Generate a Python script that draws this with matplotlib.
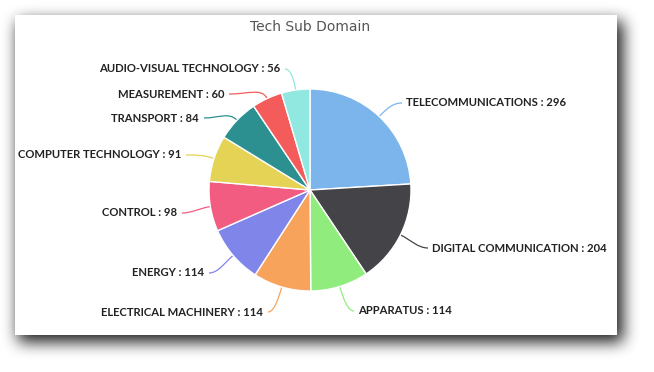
import numpy as np
import matplotlib
matplotlib.use("Agg")
import matplotlib.pyplot as plt
from matplotlib.path import Path
from matplotlib.patches import PathPatch, Rectangle

# ---- data ----
categories = ["TELECOMMUNICATIONS", "DIGITAL COMMUNICATION", "APPARATUS",
              "ELECTRICAL MACHINERY", "ENERGY", "CONTROL", "COMPUTER TECHNOLOGY",
              "TRANSPORT", "MEASUREMENT", "AUDIO-VISUAL TECHNOLOGY"]
values = [296, 204, 114, 114, 114, 98, 91, 84, 60, 56]
colors = ["#7cb5ec", "#434348", "#90ed7d", "#f7a35c", "#8085e9",
          "#f15c80", "#e4d354", "#2b908f", "#f45b5b", "#91e8e1"]
title = "Tech Sub Domain"

# ---- layout (pixel coords, y from top) ----
W, H = 654, 372
cx, cy, R = 310, 190, 101
label_pos = [(406, 103, "left"), (432, 248, "left"), (358, 311, "left"),
             (263, 312, "right"), (204, 273, "right"), (177, 213, "right"),
             (181, 155, "right"), (199, 118, "right"), (224, 94, "right"),
             (280, 69, "right")]

fig = plt.figure(figsize=(W / 100, H / 100), dpi=100)
ax = fig.add_axes([0, 0, 1, 1])
ax.set_xlim(0, W)
ax.set_ylim(0, H)
ax.set_aspect("equal")
ax.axis("off")

def Y(y):
    return H - y

# shadow of card
card = (15, 15, 617, 335)  # x0, y0, x1, y1 (pixels from top)
sh = np.zeros((H, W))
sh[card[1] + 6:card[3] + 7, card[0] + 3:card[2] + 6] = 1.0
def blur(a, k):
    for _ in range(3):
        c = np.cumsum(np.pad(a, ((0, 0), (k + 1, k)), mode="edge"), axis=1)
        a = (c[:, 2 * k + 1:] - c[:, :-2 * k - 1]) / (2 * k + 1)
        c = np.cumsum(np.pad(a, ((k + 1, k), (0, 0)), mode="edge"), axis=0)
        a = (c[2 * k + 1:, :] - c[:-2 * k - 1, :]) / (2 * k + 1)
    return a
sh = blur(sh, 7)
rgba = np.zeros((H, W, 4))
rgba[..., 3] = np.clip(sh, 0, 1) * 0.9
ax.imshow(rgba, extent=(0, W, 0, H), origin="upper", zorder=0, interpolation="bilinear")

ax.add_patch(Rectangle((card[0], Y(card[3])), card[2] - card[0], card[3] - card[1],
                       facecolor="white", edgecolor="none", linewidth=0, zorder=1))

ax.text(cx, Y(27), title, ha="center", va="center", fontsize=10,
        color="#555555", family="DejaVu Sans", zorder=5)

wedges, _ = ax.pie(values, colors=colors, startangle=90, counterclock=False,
                   center=(cx, Y(cy)), radius=R, frame=True,
                   wedgeprops=dict(edgecolor="white", linewidth=1.0, zorder=3))
ax.set_xlim(0, W)
ax.set_ylim(0, H)
ax.axis("off")

for w, cat, val, col, (lx, ly, ha) in zip(wedges, categories, values, colors, label_pos):
    mid = np.deg2rad((w.theta1 + w.theta2) / 2)
    ex, ey = cx + R * np.cos(mid), Y(cy) + R * np.sin(mid)
    bx, by = cx + (R + 12) * np.cos(mid), Y(cy) + (R + 12) * np.sin(mid)
    sx = lx - 4 if ha == "left" else lx + 5
    sy = Y(ly)
    c1x = sx + (bx - sx) * 0.6
    path = Path([(sx, sy), (c1x, sy), (bx, by), (ex, ey)],
                [Path.MOVETO, Path.CURVE4, Path.CURVE4, Path.CURVE4])
    ax.add_patch(PathPatch(path, facecolor="none", edgecolor=col, linewidth=0.9, zorder=2))
    ax.text(lx, sy, f"{cat} : {val}", ha=ha, va="center", fontsize=8.1,
            fontweight="bold", color="#222222", family="Lato", zorder=5)

fig.savefig("out.png", dpi=100, facecolor="white")
